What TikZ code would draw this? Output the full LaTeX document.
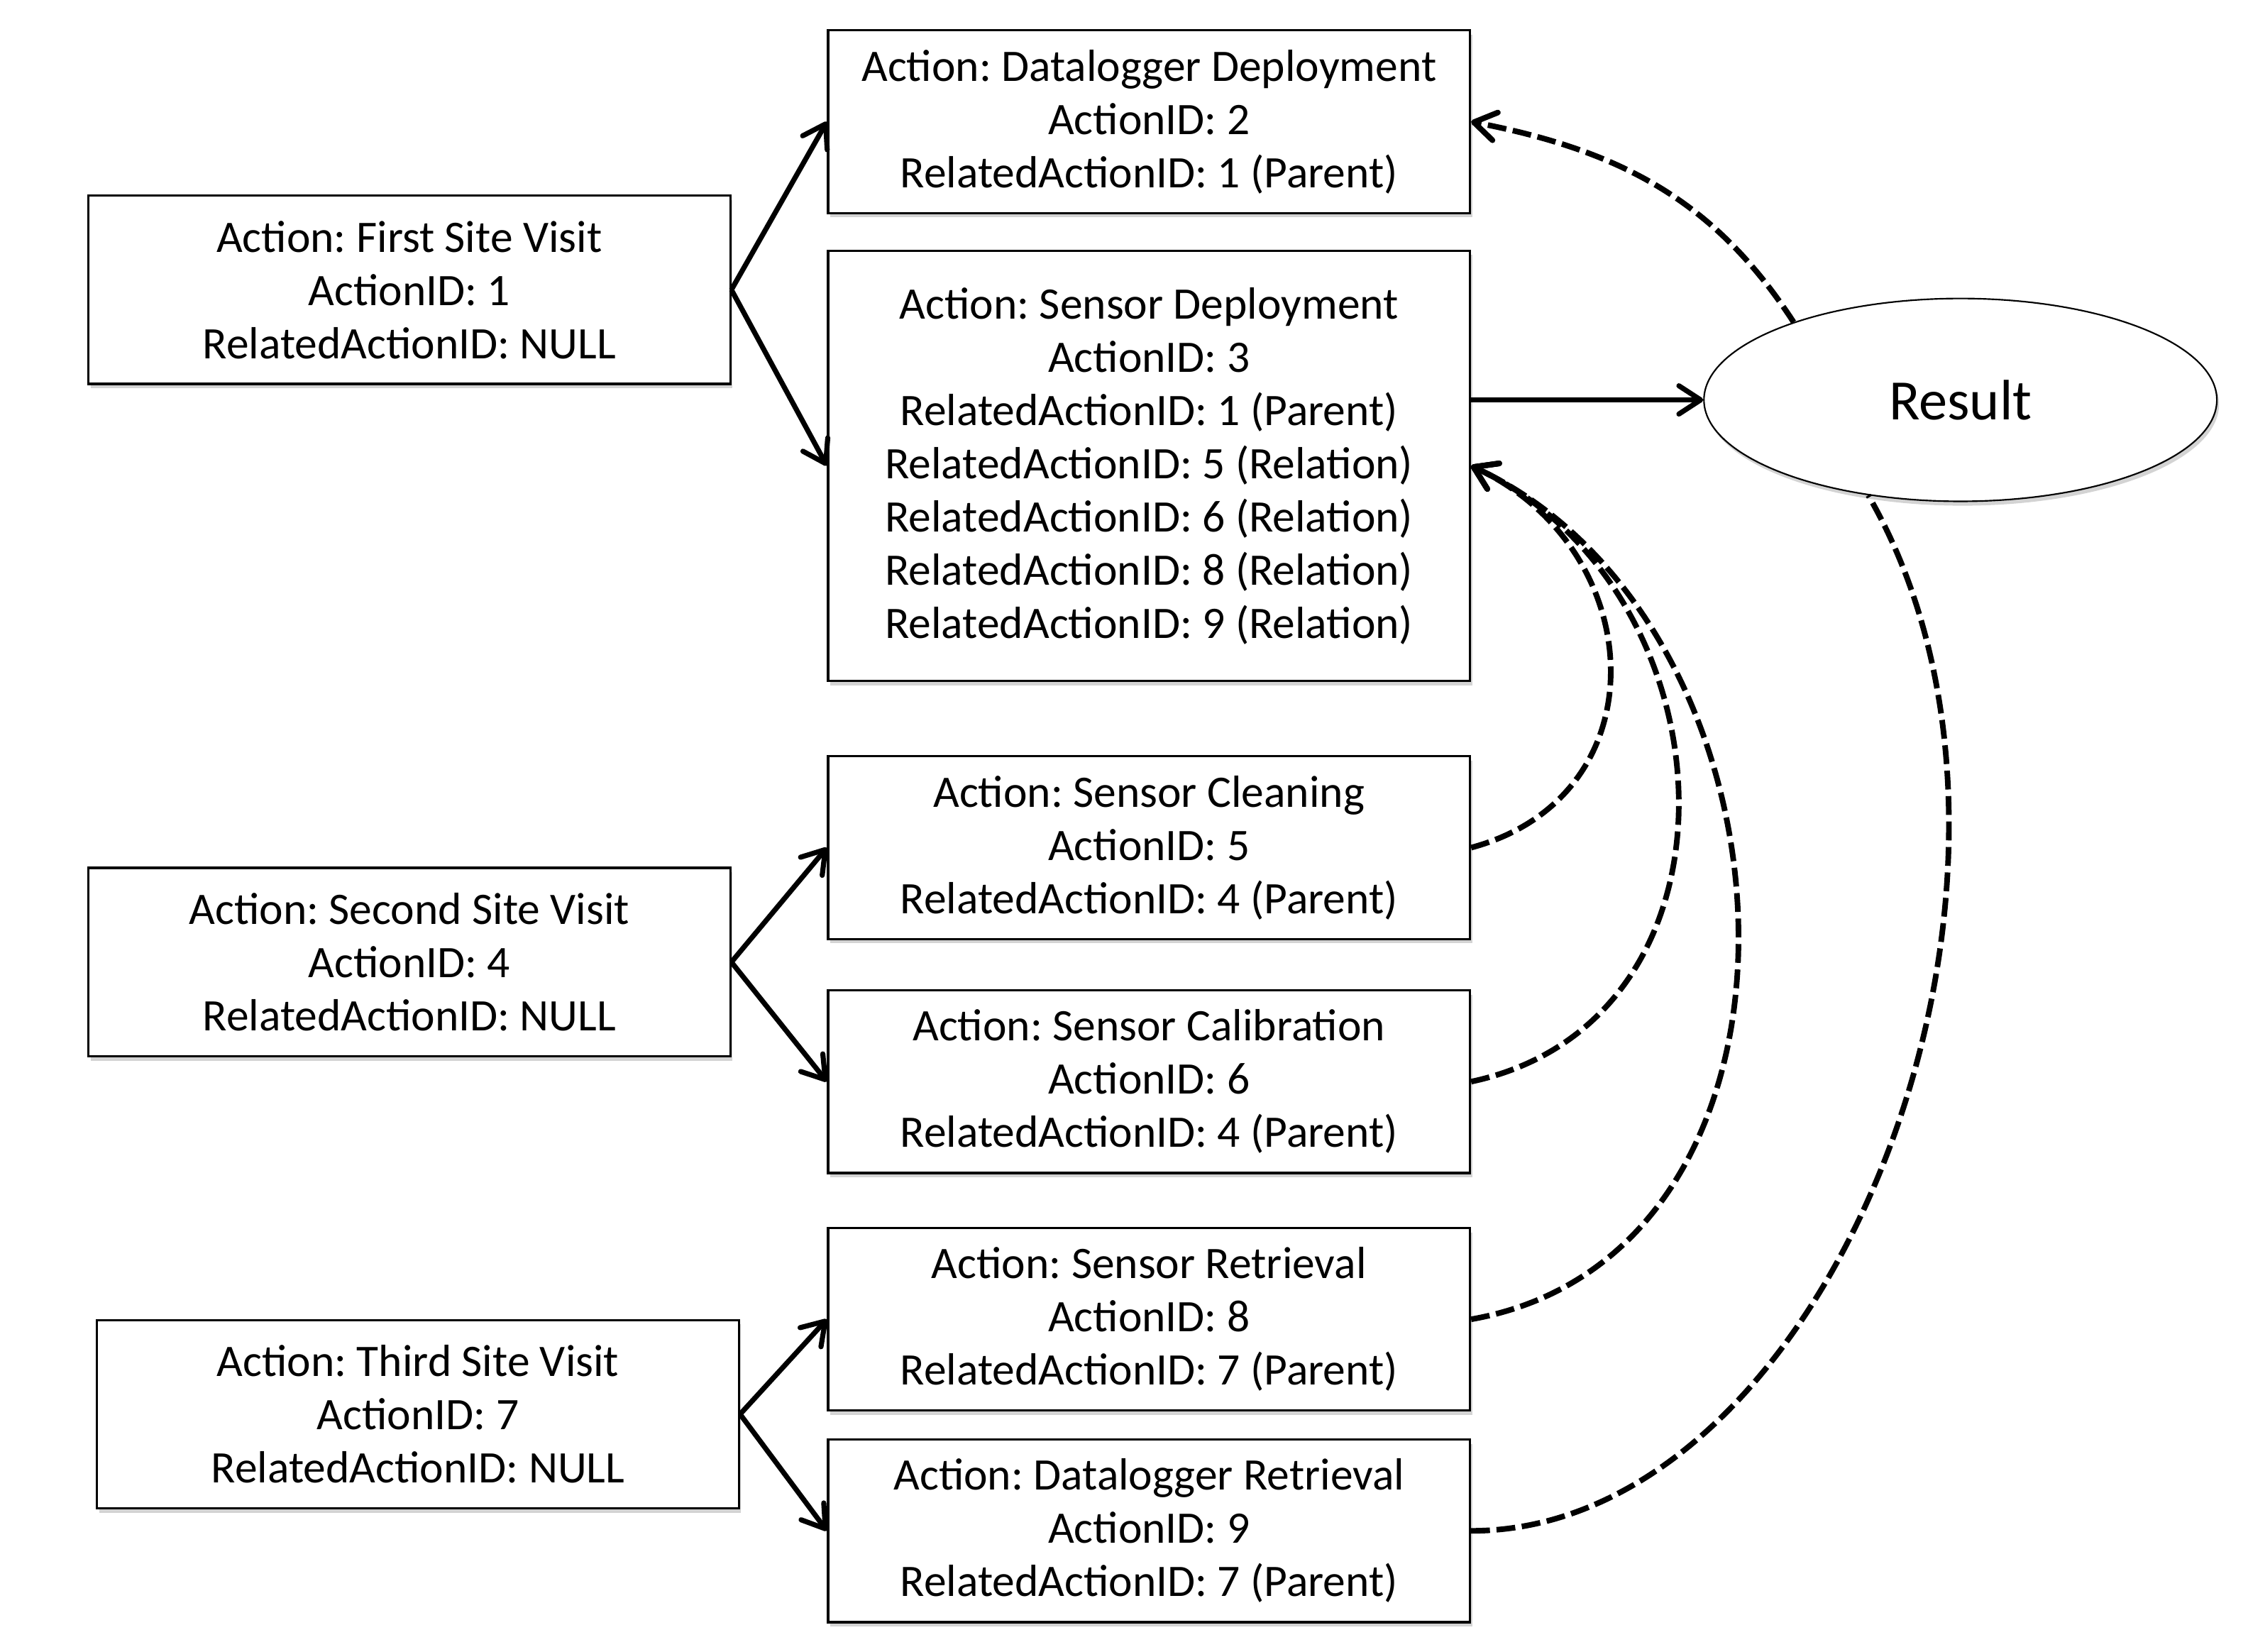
\documentclass[tikz,border=0pt]{standalone}
\usepackage{fontspec}
\setmainfont{Carlito}
\usetikzlibrary{arrows.meta,shadows,shapes.geometric}
\frenchspacing
\begin{document}
\begin{tikzpicture}[
    box/.style={draw, line width=0.9pt, fill=white, minimum width=8.86cm,
      minimum height=2.6cm, inner sep=0pt, align=center,
      font=\fontsize{17.7}{20.9}\selectfont,
      drop shadow={shadow xshift=0.03cm, shadow yshift=-0.06cm, opacity=0.35}},
    result/.style={draw, ellipse, line width=0.6pt, fill=white, minimum width=7.08cm,
      minimum height=2.8cm, inner sep=0pt, font=\fontsize{22.4}{26}\selectfont,
      drop shadow={shadow xshift=0.03cm, shadow yshift=-0.06cm, opacity=0.35}},
    arr/.style={line width=2pt, -{Straight Barb[length=3mm, width=3.9mm, round]}},
    rel/.style={line width=2.2pt, dash pattern=on 7.4pt off 2.6pt}
  ]
  \useasboundingbox (0,0) rectangle (31.03,22.8);
  \draw
    (5.65,18.8) node[box] (fsv) {Action: First Site Visit\\ActionID: 1\\RelatedActionID: NULL}
    (15.86,21.12) node[box, minimum height=2.52cm] (dd) {Action: Datalogger Deployment\\ActionID: 2\\RelatedActionID: 1 (Parent)}
    (15.86,16.37) node[box, minimum height=5.94cm] (sd) {Action: Sensor Deployment\\ActionID: 3\\RelatedActionID: 1 (Parent)\\RelatedActionID: 5 (Relation)\\RelatedActionID: 6 (Relation)\\RelatedActionID: 8 (Relation)\\RelatedActionID: 9 (Relation)}
    (27.06,17.28) node[result] (res) {Result}
    (5.65,9.52) node[box] (ssv) {Action: Second Site Visit\\ActionID: 4\\RelatedActionID: NULL}
    (15.86,11.1) node[box, minimum height=2.52cm] (sc) {Action: Sensor Cleaning\\ActionID: 5\\RelatedActionID: 4 (Parent)}
    (15.86,7.87) node[box, minimum height=2.52cm] (scal) {Action: Sensor Calibration\\ActionID: 6\\RelatedActionID: 4 (Parent)}
    (5.77,3.28) node[box] (tsv) {Action: Third Site Visit\\ActionID: 7\\RelatedActionID: NULL}
    (15.86,4.59) node[box, minimum height=2.52cm] (sr) {Action: Sensor Retrieval\\ActionID: 8\\RelatedActionID: 7 (Parent)}
    (15.86,1.67) node[box, minimum height=2.52cm] (dr) {Action: Datalogger Retrieval\\ActionID: 9\\RelatedActionID: 7 (Parent)};
  \begin{scope}[arr]
    \draw (fsv.east) to (dd.west);
    \draw (fsv.east) to (sd.west);
    \draw (ssv.east) to (sc.west);
    \draw (ssv.east) to (scal.west);
    \draw (tsv.east) to (sr.west);
    \draw (tsv.east) to (dr.west);
    \draw (sd.east |- res.west) to (res.west);
  \end{scope}
  \begin{scope}[rel]
    \draw[arr, rel] (res.155) to[out=123, in=-11] (dd.east);
    \draw[arr, rel] (sc.east) to[out=15, in=-25, looseness=1.33] (sd.east);
    \draw[arr, rel] (scal.east) to[out=12, in=-25, looseness=1.22] (sd.east);
    \draw[arr, rel] (sr.east) to[out=10, in=-25, looseness=1.13] (sd.east);
    \draw (dr.east) .. controls +(0:5) and +(-60:6) .. (res.-134);
  \end{scope}
\end{tikzpicture}
\end{document}
